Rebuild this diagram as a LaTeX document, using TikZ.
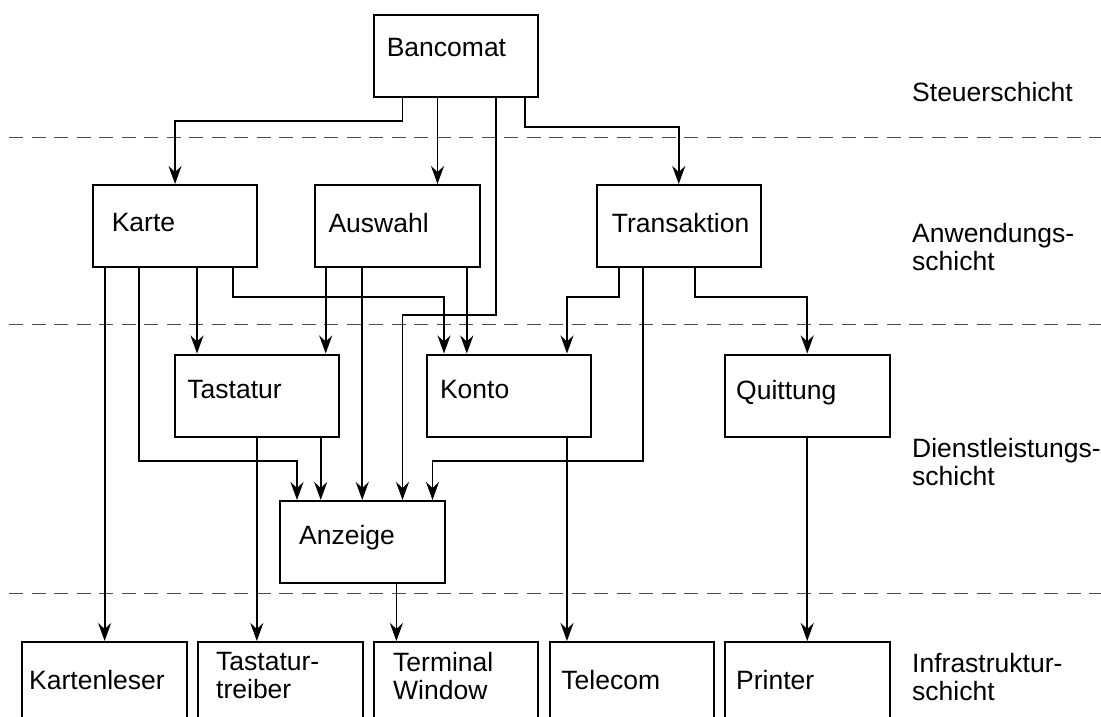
\documentclass[tikz,border=0pt]{standalone}
\usepackage{fontspec}
\setmainfont{Liberation Sans}
\usetikzlibrary{arrows.meta,calc}
\begin{document}
\begin{tikzpicture}[x=1pt,y=-1pt,
  box/.style={draw, line width=2pt, rectangle, minimum width=164.5pt, minimum height=82pt, anchor=north west, inner sep=0pt},
  lowbox/.style={box, minimum height=100pt},
  lbl/.style={anchor=north west, inner sep=0pt, align=left, font=\fontsize{26.5}{28}\selectfont},
  arr/.style={line width=1.8pt, -{Stealth[length=18pt,width=13pt,inset=6pt]}},
  layerline/.style={draw=black!70, line width=1pt, dash pattern=on 14pt off 8.5pt}]
\clip (0,0) rectangle (1101,717);
% layer separators
\draw[layerline] (9,137) -- (1101,137);
\draw[layerline] (9,324) -- (1101,324);
\draw[layerline] (9,593) -- (1101,593);
% boxes
\node[box] (bancomat) at (372.5,14) {};
\node[box] (karte) at (91.8,184) {};
\node[box] (auswahl) at (314,184) {};
\node[box] (transaktion) at (595.5,184) {};
\node[box] (tastatur) at (173.6,353.5) {};
\node[box] (konto) at (425.7,353.5) {};
\node[box] (quittung) at (724,353.5) {};
\node[box] (anzeige) at (279,500) {};
\node[lowbox] (kartenleser) at (21.4,641) {};
\node[lowbox] (treiber) at (197,641) {};
\node[lowbox] (terminal) at (372.9,641) {};
\node[lowbox] (telecom) at (548.6,641) {};
\node[lowbox] (printer) at (724,641) {};
% box texts
\node[lbl] (tbancomat) at (386.6,38.3) {Bancomat};
\node[lbl] (tkarte) at (111.6,213.3) {Karte};
\node[lbl] (tauswahl) at (328.3,213.3) {Auswahl};
\node[lbl] (ttransaktion) at (611.6,213.3) {Transaktion};
\node[lbl] (ttastatur) at (187.2,380) {Tastatur};
\node[lbl] (tkonto) at (439.8,380) {Konto};
\node[lbl] (tquittung) at (736,380) {Quittung};
\node[lbl] (tanzeige) at (299,525) {Anzeige};
\node[lbl] (tkartenleser) at (29,670) {Kartenleser};
\node[lbl] (ttreiber) at (216,651.7) {Tastatur-\\treiber};
\node[lbl] (tterminal) at (393,651.7) {Terminal\\Window};
\node[lbl] (ttelecom) at (561.2,670) {Telecom};
\node[lbl] (tprinter) at (736,670) {Printer};
% layer names
\node[lbl] (l1) at (912,82) {Steuerschicht};
\node[lbl] (l2) at (912,223) {Anwendungs-\\schicht};
\node[lbl] (l3) at (912,438) {Dienstleistungs-\\schicht};
\node[lbl] (l4) at (912,653) {Infrastruktur-\\schicht};
% Bancomat
\draw[arr] ($(bancomat.south west)+(30,0)$) -- ++(0,23) -| (karte.north);
\draw[arr] ($(bancomat.south west)+(65,0)$) coordinate (b2) -- (b2 |- auswahl.north);
\draw[arr] ($(bancomat.south west)+(123.5,0)$) -- ++(0,216.7) -| ($(anzeige.north west)+(123.5,0)$);
\draw[arr] ($(bancomat.south west)+(152.5,0)$) -- ++(0,29) -| (transaktion.north);
% Karte
\draw[arr] (kartenleser.north |- karte.south) -- (kartenleser.north);
\draw[arr] ($(karte.south west)+(46.8,0)$) -- ++(0,193) -| ($(anzeige.north west)+(18,0)$);
\draw[arr] ($(karte.south west)+(105.2,0)$) coordinate (k3) -- (k3 |- tastatur.north);
\draw[arr] ($(karte.south west)+(141.1,0)$) -- ++(0,29) -| ($(konto.north west)+(18.3,0)$);
% Auswahl
\draw[arr] ($(auswahl.south west)+(11.7,0)$) coordinate (a1) -- (a1 |- tastatur.north);
\draw[arr] (anzeige.north |- auswahl.south) -- (anzeige.north);
\draw[arr] ($(auswahl.south west)+(152.8,0)$) coordinate (a3) -- (a3 |- konto.north);
% Transaktion
\draw[arr] ($(transaktion.south west)+(23.2,0)$) -- ++(0,29) -| ($(konto.north west)+(141.3,0)$);
\draw[arr] ($(transaktion.south west)+(47.5,0)$) -- ++(0,193) -| ($(anzeige.north west)+(153.5,0)$);
\draw[arr] ($(transaktion.south west)+(99.5,0)$) -- ++(0,29) -| (quittung.north);
% Tastatur
\draw[arr] (tastatur.south) -- (tastatur.south |- treiber.north);
\draw[arr] ($(tastatur.south west)+(147.1,0)$) coordinate (t2) -- (t2 |- anzeige.north);
% Konto, Quittung, Anzeige
\draw[arr] ($(konto.south west)+(141.3,0)$) coordinate (ko) -- (ko |- telecom.north);
\draw[arr] (quittung.south) -- (printer.north);
\draw[arr] ($(anzeige.south west)+(117.4,0)$) coordinate (z1) -- (z1 |- terminal.north);
\end{tikzpicture}
\end{document}
